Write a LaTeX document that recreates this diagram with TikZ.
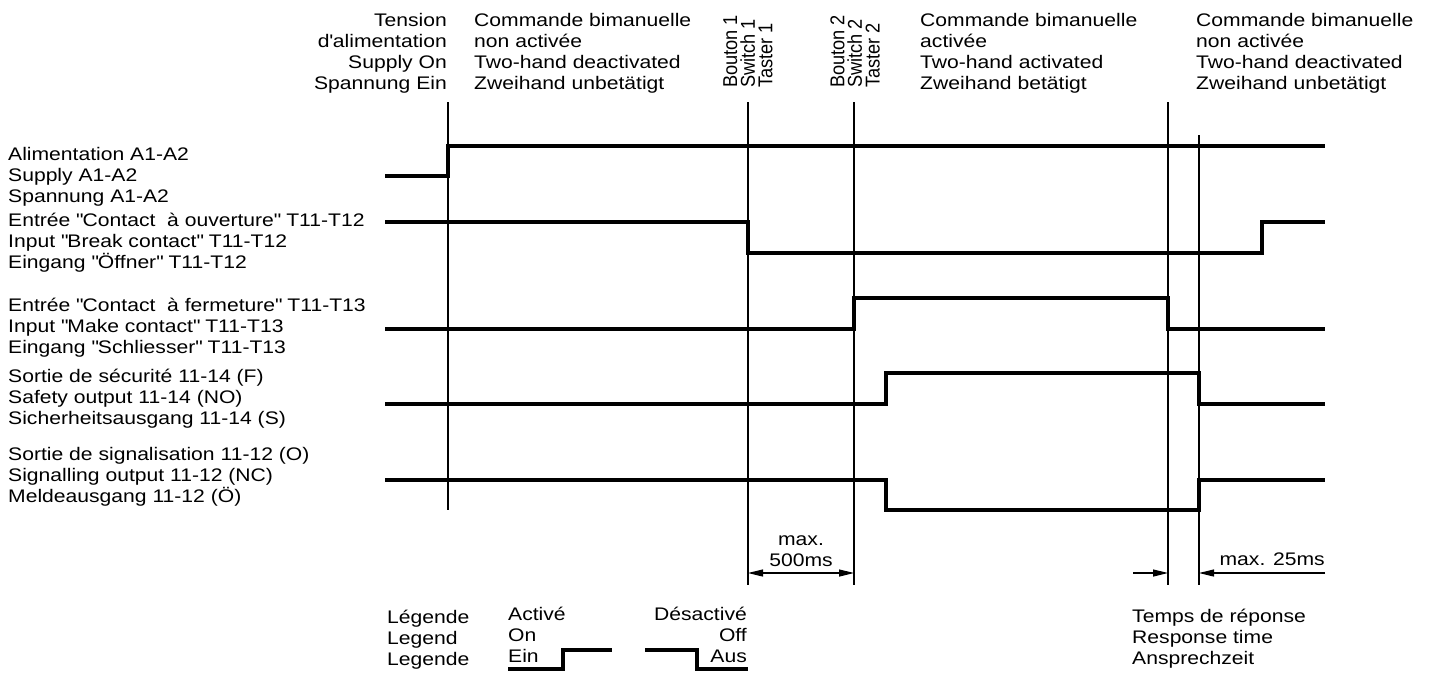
\documentclass[tikz,border=0pt]{standalone}
\usepackage{fontspec}
\setmainfont{Liberation Sans}[FakeStretch=1.16]
\usetikzlibrary{arrows.meta}
\newcommand{\hstrut}{\rule{0pt}{18pt}}
\newcommand{\qq}{\textquotedbl}

\begin{document}
\begin{tikzpicture}[x=1pt,y=-1pt,
		every node/.style={inner sep=0,font=\fontsize{18.2}{21}\selectfont},
		signal/.style={line width=4,line join=miter},
		tline/.style={line width=2},
		dimarrow/.style={line width=1.2,-{Triangle[length=15pt,width=7pt]}},
		rotlbl/.style={rotate=90,xscale=0.862,yscale=1.1,anchor=west,align=left,font=\fontsize{18.2}{16}\selectfont}]
	\useasboundingbox (0,0) rectangle (1434,675);

	\node[anchor=north east,align=right] (supplyon) at (447,8) {\hstrut Tension\\d\textquotesingle alimentation\\Supply On\\Spannung Ein};
	\node[anchor=north west,align=left] (cmdoff) at (474,8) {\hstrut Commande bimanuelle\\non activée\\Two-hand deactivated\\Zweihand unbetätigt};
	\node[rotlbl] (bouton1) at (748,88) {Bouton 1\\Switch 1\\Taster 1};
	\node[rotlbl] (bouton2) at (855,88) {Bouton 2\\Switch 2\\Taster 2};
	\node[anchor=north west,align=left] (cmdon) at (920,8) {\hstrut Commande bimanuelle\\activée\\Two-hand activated\\Zweihand betätigt};
	\node[anchor=north west,align=left] (cmdoff2) at (1196,8) {\hstrut Commande bimanuelle\\non activée\\Two-hand deactivated\\Zweihand unbetätigt};

	\node[anchor=north west,align=left] (supply) at (8,142) {\hstrut Alimentation A1-A2\\Supply A1-A2\\Spannung A1-A2};
	\node[anchor=north west,align=left] (breakc) at (8,208) {\hstrut Entrée \qq Contact\ \ à ouverture\qq{} T11-T12\\Input \qq Break contact\qq{} T11-T12\\Eingang \qq Öffner\qq{} T11-T12};
	\node[anchor=north west,align=left] (makec) at (8,293) {\hstrut Entrée \qq Contact\ \ à fermeture\qq{} T11-T13\\Input \qq Make contact\qq{} T11-T13\\Eingang \qq Schliesser\qq{} T11-T13};
	\node[anchor=north west,align=left] (safety) at (8,364) {\hstrut Sortie de sécurité 11-14 (F)\\Safety output 11-14 (NO)\\Sicherheitsausgang 11-14 (S)};
	\node[anchor=north west,align=left] (signalling) at (8,442) {\hstrut Sortie de signalisation 11-12 (O)\\Signalling output 11-12 (NC)\\Meldeausgang 11-12 (Ö)};

	\foreach \x/\t/\b [count=\i] in {448/102/510,748/102/585,854/102/585,1168/102/585,1199/135/585}
		\draw[tline] (\x,\t) -- (\x,\b) coordinate (t\i);

	\draw[signal] (385,176) -- (448,176) -- (448,146) -- (1325,146);
	\draw[signal] (385,222) -- (748,222) -- (748,253) -- (1262,253) -- (1262,222) -- (1325,222);
	\draw[signal] (385,329) -- (854,329) -- (854,298) -- (1168,298) -- (1168,329) -- (1325,329);
	\draw[signal] (385,404) -- (886,404) -- (886,373) -- (1199,373) -- (1199,404) -- (1325,404);
	\draw[signal] (385,480) -- (886,480) -- (886,510) -- (1199,510) -- (1199,480) -- (1325,480);

	\node[anchor=north,align=center] (max500) at (801,527) {\hstrut max.\\500ms};
	\draw[dimarrow,{Triangle[length=15pt,width=7pt]}-{Triangle[length=15pt,width=7pt]}] ([yshift=12pt]t2) -- ([yshift=12pt]t3);
	\draw[dimarrow] ([shift={(-35pt,12pt)}]t4) -- ([yshift=12pt]t4);
	\draw[dimarrow] ([shift={(126pt,12pt)}]t5) -- ([yshift=12pt]t5);
	\node[anchor=base east] (max25) at (1325,565) {max. 25ms};
	\node[anchor=north west,align=left] (response) at (1132,604) {\hstrut Temps de réponse\\Response time\\Ansprechzeit};

	\node[anchor=north west,align=left] (legend) at (387,605) {\hstrut Légende\\Legend\\Legende};
	\node[anchor=north west,align=left] (active) at (508,602) {\hstrut Activé\\On\\Ein};
	\node[anchor=north east,align=right] (inactive) at (747,602) {\hstrut Désactivé\\Off\\Aus};
	\draw[signal] (508,669) -- (563,669) -- (563,650) -- (612,650);
	\draw[signal] (645,650) -- (697,650) -- (697,669) -- (748,669);
\end{tikzpicture}
\end{document}
